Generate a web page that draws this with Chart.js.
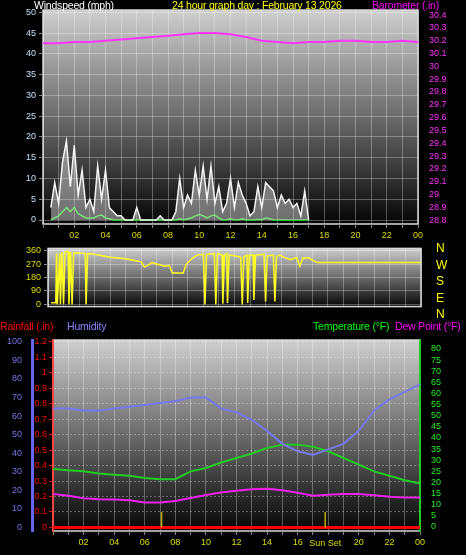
<!DOCTYPE html>
<html><head><meta charset="utf-8">
<script src="https://cdn.jsdelivr.net/npm/chart.js@4/dist/chart.umd.min.js"></script>
<style>
body{margin:0;background:#000;width:466px;height:555px;overflow:hidden;position:relative;font-family:"Liberation Sans",Arial,sans-serif}
canvas{position:absolute;left:0;z-index:0}
.t{position:absolute;font-size:10.5px;white-space:nowrap;line-height:11px;z-index:2;letter-spacing:-0.2px}
</style></head><body>
<canvas id="c1" width="466" height="245" style="top:0"></canvas>
<canvas id="c2" width="466" height="75" style="top:240px"></canvas>
<canvas id="c3" width="466" height="235" style="top:320px"></canvas>
<div class="t" style="left:34px;top:0;color:#fff">Windspeed (mph)</div>
<div class="t" style="left:172px;top:0;color:#ff0">24 hour graph day : February 13 2026</div>
<div class="t" style="left:372px;top:0;color:#f0f">Barometer (.in)</div>
<div class="t" style="left:0;top:321px;color:#f00">Rainfall (.in)</div>
<div class="t" style="left:67px;top:321px;color:#88f">Humidity</div>
<div class="t" style="left:313px;top:321px;color:#0f0">Temperature (°F)</div>
<div class="t" style="left:395px;top:321px;color:#f0f">Dew Point (°F)</div>
<div class="t" style="left:436px;top:240px;color:#ff0;font-size:12px;line-height:16.5px">N<br>W<br>S<br>E<br>N</div>
<script>
const windStart=0.5, windStep=0.25;
const windGust=[3,9,4,14,19,8,18,6,12,3,5,2,13,5,12,3,2,1,1,0,0,0,3,0,0,0,0,0,1,0,0,0,2,10,3,6,4,12,6,13,5,13,4,8,2,4,10,3,9,6,4,1,2,8,3,9,8,7,3,6,4,5,3,4,1,7,0];
const windAvg=[0,0.5,1,2,3,2,3,1.5,1,0.5,0.5,0.5,1,1.2,0.5,0.3,0,0,0,0,0,0,0,0,0,0,0,0,0,0,0,0,0,0.3,0,0.3,0.5,1,1.3,1,0.5,1,1.2,0.5,0,0,0.3,0,0,0.3,0,0,0,0.2,0,0.5,0.3,0,0,0,0,0,0,0,0,0,0];
const hours=[0,1,2,3,4,5,6,7,8,9,10,11,12,13,14,15,16,17,18,19,20,21,22,23,24];
const baro=[30.18,30.18,30.19,30.19,30.2,30.21,30.22,30.23,30.24,30.25,30.26,30.26,30.25,30.23,30.2,30.19,30.18,30.19,30.19,30.2,30.2,30.19,30.19,30.2,30.19];
const dirHours=[0.2,0.5,0.55,0.6,0.75,0.8,0.9,1.0,1.1,1.3,1.35,1.45,1.55,1.65,2.0,2.4,2.45,2.55,3,3.5,4,4.5,5,5.5,6,6.2,6.4,6.7,7,7.5,7.8,8,8.7,8.9,9.3,9.6,10,10.1,10.2,10.7,10.8,10.9,11.2,11.25,11.35,11.5,11.55,11.65,12,12.4,12.5,12.6,12.8,12.85,12.95,13.2,13.25,13.35,13.9,14.0,14.1,14.5,14.6,14.7,14.9,15.2,15.6,16,16.2,16.4,16.8,17.3,24];
const dirValues=[10,10,340,0,340,0,350,5,350,355,0,350,0,345,345,340,0,340,335,325,315,310,305,295,285,250,260,280,270,255,260,210,210,270,310,330,335,0,335,340,0,340,330,5,330,340,10,330,325,315,0,320,330,10,330,330,30,330,335,20,325,330,20,320,330,315,300,315,255,310,310,280,280];
const humidity=[64,64,63,63,64,65,66,67,68,70,70,64,62,58,52,45,41,39,42,45,52,63,69,73,77];
const temperature=[26,25.5,25,24,23.5,23,22,21.5,21.5,25,26.5,29,31,33,35.5,37,37,36,34,31,28,25,23,21,19.5];
const dewPoint=[14.8,14,12.9,12.5,12.3,12,11,11,11.7,13,14.4,15.5,16.3,17,17.2,16.5,15.4,14,14.5,14.8,14.8,14.3,13.6,13.3,13.2];
const rainfall=[0,0,0,0,0,0,0,0,0,0,0,0,0,0,0,0,0,0,0,0,0,0,0,0,0];
const sunEvents=[7.1,17.8];
const windTicks=[0,5,10,15,20,25,30,35,40,45,50];
const baroTicks=[28.8,28.9,29,29.1,29.2,29.3,29.4,29.5,29.6,29.7,29.8,29.9,30,30.1,30.2,30.3,30.4];
const dirTicks=[0,90,180,270,360];
const humTicks=[0,10,20,30,40,50,60,70,80,90,100];
const rainTicks=[0,0.1,0.2,0.3,0.4,0.5,0.6,0.7,0.8,0.9,1,1.1,1.2];
const tempTicks=[0,5,10,15,20,25,30,35,40,45,50,55,60,65,70,75,80];

const F='"Liberation Sans",Arial,sans-serif';
const xy=(xs,ys)=>ys.map((v,i)=>({x:xs[i],y:v}));
const windX=windGust.map((_,i)=>windStart+i*windStep);
const bg={id:'bg',beforeDraw(c){const x=c.ctx,a=c.chartArea;x.save();x.fillStyle='#000';x.fillRect(0,0,c.width,c.height);
 const g=x.createLinearGradient(0,a.top,0,a.bottom);g.addColorStop(0,'#cfcfcf');g.addColorStop(1,'#050505');x.fillStyle=g;x.fillRect(a.left,a.top,a.right-a.left,a.bottom-a.top);
 x.strokeStyle='#d8d8d8';x.lineWidth=1.5;x.strokeRect(a.left,a.top,a.right-a.left,a.bottom-a.top);x.restore();}};
const setT=t=>s=>{s.ticks=t.map(v=>({value:v}));};
const fix=w=>s=>{s.width=w;};
const fixH=h=>s=>{s.height=h;};
const grid={color:'rgba(255,255,255,0.3)',borderDash:[1,2],drawTicks:true,tickLength:4,tickColor:'#888'};
const xLab=v=>(v%2===0&&v>0)?String(v%24).padStart(2,'0'):'';
const tk=(col,extra)=>Object.assign({color:col,font:{family:F,size:9},autoSkip:false,padding:3},extra||{});
function xAxis(show,h){return {type:'linear',min:0,max:24,afterBuildTicks:setT(hours),afterFit:fixH(h),display:true,
 grid:{...grid},border:{display:false},ticks:tk('#dddd00',{display:show,callback:xLab,maxRotation:0,padding:2})};}
const common={responsive:false,animation:false,events:[],plugins:{legend:{display:false},tooltip:{enabled:false}},elements:{point:{radius:0}}};
const f1=v=>String(+v.toFixed(1));

new Chart(document.getElementById('c1'),{type:'line',data:{datasets:[
 {data:xy(windX,windGust),borderColor:'#f4f4f4',borderWidth:1.5,fill:{target:{value:0}},backgroundColor:'rgba(235,235,235,0.45)',yAxisID:'y'},
 {data:xy(windX,windAvg),borderColor:'#22dd22',borderWidth:1.5,yAxisID:'y'},
 {data:xy(hours,baro),borderColor:'#ff33ff',borderWidth:2,yAxisID:'yb'}]},
 options:{...common,layout:{padding:{top:10}},scales:{
 x:xAxis(true,21),
 y:{position:'left',min:-0.96,max:50.55,afterBuildTicks:setT(windTicks),afterFit:fix(43),grid:{...grid},border:{display:false},ticks:tk('#bfe0ff')},
 yb:{position:'right',min:28.77,max:30.44,afterBuildTicks:setT(baroTicks),afterFit:fix(48),grid:{display:false},border:{display:false},ticks:tk('#ff33ff',{callback:f1})}}},
 plugins:[bg]});

new Chart(document.getElementById('c2'),{type:'line',data:{datasets:[
 {data:xy(dirHours,dirValues),borderColor:'#ffff22',borderWidth:1.5,yAxisID:'y'}]},
 options:{...common,layout:{padding:{top:4,bottom:2}},scales:{
 x:{...xAxis(false,0),ticks:{display:false},grid:{...grid,drawTicks:false}},
 y:{position:'left',min:-15,max:375,afterBuildTicks:setT(dirTicks),afterFit:fix(48),grid:{...grid},border:{display:false},ticks:tk('#dddd00')},
 y2:{position:'right',min:0,max:1,afterFit:fix(45),grid:{display:false},border:{display:false},ticks:{display:false}}}},
 plugins:[bg]});

const sun={id:'sun',afterDatasetsDraw(c){const x=c.ctx,sx=c.scales.x,sr=c.scales.yr;x.save();x.strokeStyle='#bbaa00';x.lineWidth=1.5;
 sunEvents.forEach(h=>{const p=sx.getPixelForValue(h);x.beginPath();x.moveTo(p,sr.getPixelForValue(0));x.lineTo(p,sr.getPixelForValue(0.1));x.stroke();});
 x.fillStyle='#dddd00';x.font='9px '+F;x.textAlign='center';x.fillText('Sun Set',sx.getPixelForValue(sunEvents[1]),226);x.restore();}};
new Chart(document.getElementById('c3'),{type:'line',data:{datasets:[
 {data:xy(hours,humidity),borderColor:'#7777ee',borderWidth:2,yAxisID:'yh'},
 {data:xy(hours,temperature),borderColor:'#22cc22',borderWidth:2,yAxisID:'yt'},
 {data:xy(hours,dewPoint),borderColor:'#ee22ee',borderWidth:2,yAxisID:'yt'},
 {data:xy(hours,rainfall),borderColor:'#ff0000',borderWidth:3,yAxisID:'yr'}]},
 options:{...common,layout:{padding:{top:20}},scales:{
 x:{...xAxis(true,24),ticks:tk('#dddd00',{callback:v=>v===18?'':xLab(v),maxRotation:0,padding:2})},
 yr:{position:'left',min:-0.023,max:1.212,afterBuildTicks:setT(rainTicks),afterFit:fix(21),grid:{...grid,tickColor:'#ff0000'},border:{display:true,color:'#ff4444',width:2,dash:[2,2]},ticks:tk('#ff0000',{callback:f1,padding:2})},
 yh:{position:'left',min:-2,max:101,afterBuildTicks:setT(humTicks),afterFit:fix(32),grid:{display:false},border:{display:true,color:'#6666ee',width:3},ticks:tk('#7777ee',{padding:2})},
 yt:{position:'right',min:-1.8,max:84,afterBuildTicks:setT(tempTicks),afterFit:fix(46),grid:{display:false},border:{display:true,color:'#22cc22',width:2},ticks:tk('#22ee22')}}},
 plugins:[bg,sun]});
</script></body></html>
